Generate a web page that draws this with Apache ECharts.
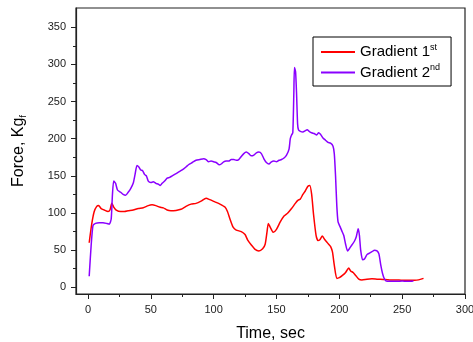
<!DOCTYPE html>
<html>
<head>
<meta charset="utf-8">
<script src="https://cdn.jsdelivr.net/npm/echarts@6/dist/echarts.min.js"></script>
<style>
  html, body { margin: 0; padding: 0; background: #fff; }
  #main { width: 473px; height: 342px; }
</style>
</head>
<body>
<div id="main"></div>
<script>
// Gradient 1st (red)
const time1 = [1, 3, 5, 7, 8.5, 10.5, 13, 16, 17.5, 19, 20.5, 22.5, 26, 29, 32, 36, 40, 44, 48, 51, 54, 57, 60, 63, 66, 70, 74, 78, 82, 86, 90, 94, 97, 101, 105, 109, 111, 113, 115.5, 118, 122, 125, 127, 130, 133, 136, 139, 141, 142.5, 143.5, 145, 147.5, 150, 153, 156, 159, 162, 165, 167, 169, 171, 173, 175, 176.5, 178, 179.5, 181.5, 183, 184.5, 186.5, 188.5, 190, 191.5, 193, 194.5, 196, 198, 200, 202.5, 205, 207.5, 209, 211, 213, 215.5, 218, 222, 226, 230, 235, 240, 245, 250, 255, 260, 263, 267]
const force1 = [60, 85, 102, 109, 110, 106, 104, 102, 104, 113, 108, 104, 102, 102, 103, 104, 106, 107, 110, 111, 110, 108, 107, 104, 103, 103.5, 105, 109, 112, 113, 116, 120, 118, 115, 112, 108, 102, 92, 81, 77, 75, 71, 64, 57, 51, 49, 52, 58, 75, 86, 81, 74, 78, 88, 96, 100, 106, 113, 117, 119, 125, 130, 136, 137, 125, 98, 70, 63, 64, 69, 64, 61, 58, 55, 48, 30, 12, 13, 16, 20, 26, 22, 20, 16, 11, 10, 11, 11.5, 11, 10.5, 10, 10, 9.5, 9.5, 9.5, 10, 12]

// Gradient 2nd (purple)
const time2 = [1, 2.5, 4, 6, 9, 12, 15, 17, 18.5, 19.5, 20.5, 22, 23.5, 26, 28, 30, 32, 34, 36, 37.5, 39, 40.5, 42, 43.5, 45, 46.5, 48, 50, 52, 54, 56, 57.5, 59, 61, 63, 65, 67, 69, 72, 75, 78, 80, 83, 86, 89, 92, 94, 96, 98, 100, 102, 104.5, 106, 108, 110, 112, 114, 116, 118, 120, 122, 124, 126, 128, 130, 132, 134, 136, 138, 140, 142, 144, 146, 148, 150, 152, 154, 156, 158, 160, 161, 162, 163, 163.8, 164.3, 165.2, 166, 166.8, 167.5, 169, 171, 173, 174.5, 176, 178, 180, 182, 183.5, 185, 187, 189, 191, 193, 195, 196, 197, 198, 199, 200.5, 202, 203.5, 205, 206.5, 208, 210, 212, 213.5, 215, 216, 217, 218.5, 220, 222, 224, 226, 228, 230, 231.5, 233, 234.5, 236, 238, 242, 246, 250, 254, 259]
const force2 = [15, 55, 83, 86, 87, 87, 86, 85, 92, 125, 143, 140, 131, 128, 125, 124, 128, 133, 140, 152, 164, 162, 158, 157, 152, 150, 143, 141, 142, 140, 139, 137, 140, 143, 147, 148, 150, 152, 155, 158, 162, 165, 168, 171, 172, 173, 172, 169, 170, 169, 168, 165, 166, 169, 170, 170, 172, 172, 171, 172, 176, 180, 182, 180, 177, 178, 181, 182, 180, 173, 168, 166, 169, 170, 169, 171, 172, 174, 178, 186, 200, 205, 208, 260, 296, 290, 260, 220, 212, 210, 209, 211, 212, 210, 208, 207, 205, 208, 206, 201, 198, 195, 194, 190, 180, 150, 110, 88, 82, 76, 70, 58, 49, 52, 57, 62, 68, 79, 70, 50, 37, 38, 44, 46, 48, 50, 49, 45, 30, 18, 11, 8, 8, 8, 8.5, 8, 8.5]

const xMajor = [0, 50, 100, 150, 200, 250, 300]
const xMinor = [25, 75, 125, 175, 225, 275]
const yMajor = [0, 50, 100, 150, 200, 250, 300, 350]
const yMinor = [25, 75, 125, 175, 225, 275, 325]

const pairs = (xs, ys) => xs.map((x, i) => [x, ys[i]])

const axisColor = '#222'
const font = 'Liberation Sans, Arial, sans-serif'

const myChart = echarts.init(document.getElementById('main'))
myChart.setOption({
  animation: false,
  color: ['#ff0000', '#8a00ff'],
  grid: {
    left: 76,
    right: 8,
    top: 8,
    bottom: 48,
    outerBoundsMode: 'none',
    containLabel: false,
    show: true,
    borderColor: axisColor,
    borderWidth: 1.2
  },
  legend: {
    orient: 'vertical',
    left: 313,
    top: 37,
    padding: [6, 11, 6, 8],
    itemGap: 4,
    itemWidth: 34,
    itemHeight: 2,
    icon: 'rect',
    backgroundColor: '#fff',
    borderColor: '#000',
    borderWidth: 1,
    borderRadius: 0,
    formatter: function (name) {
      const base = name.slice(0, -2)
      const sup = name.slice(-2)
      return '{t|' + base + '}{s|' + sup + '}'
    },
    textStyle: {
      rich: {
        t: { fontFamily: font, fontSize: 15, color: '#000', lineHeight: 18 },
        s: { fontFamily: font, fontSize: 9, color: '#000', padding: [0, 0, 9, 0] }
      }
    },
    data: ['Gradient 1st', 'Gradient 2nd']
  },
  xAxis: [
    {
      type: 'value',
      min: -9.5,
      max: 300,
      name: 'Time, sec',
      nameLocation: 'middle',
      nameGap: 32,
      nameTextStyle: { fontFamily: font, fontSize: 16, color: '#000' },
      splitLine: { show: false },
      axisLine: { show: true, onZero: false, lineStyle: { color: axisColor, width: 1.2 } },
      axisTick: { show: true, length: 5, customValues: xMajor, lineStyle: { color: axisColor } },
      axisLabel: { customValues: xMajor, margin: 10, fontFamily: font, fontSize: 11, color: '#222' }
    },
    {
      type: 'value',
      min: -9.5,
      max: 300,
      position: 'bottom',
      splitLine: { show: false },
      axisLine: { show: false, onZero: false },
      axisTick: { show: true, length: 3, customValues: xMinor, lineStyle: { color: axisColor } },
      axisLabel: { show: false }
    }
  ],
  yAxis: [
    {
      type: 'value',
      min: -9,
      max: 376,
      name: 'Force, Kg{sub|f}',
      nameLocation: 'middle',
      nameRotate: 90,
      nameGap: 48,
      nameTextStyle: {
        fontFamily: font,
        fontSize: 16,
        color: '#000',
        rich: {
          sub: { fontFamily: font, fontSize: 9, color: '#000', padding: [9, 0, 0, 0] }
        }
      },
      splitLine: { show: false },
      axisLine: { show: true, onZero: false, lineStyle: { color: axisColor, width: 1.2 } },
      axisTick: { show: true, length: 5, customValues: yMajor, lineStyle: { color: axisColor } },
      axisLabel: { customValues: yMajor, margin: 10, fontFamily: font, fontSize: 11, color: '#222' }
    },
    {
      type: 'value',
      min: -9,
      max: 376,
      position: 'left',
      splitLine: { show: false },
      axisLine: { show: false, onZero: false },
      axisTick: { show: true, length: 3, customValues: yMinor, lineStyle: { color: axisColor } },
      axisLabel: { show: false }
    }
  ],
  series: [
    {
      name: 'Gradient 1st',
      type: 'line',
      showSymbol: false,
      smooth: 0.2,
      lineStyle: { width: 1.5 },
      data: pairs(time1, force1)
    },
    {
      name: 'Gradient 2nd',
      type: 'line',
      showSymbol: false,
      smooth: 0.2,
      lineStyle: { width: 1.5 },
      data: pairs(time2, force2)
    }
  ]
})
</script>
</body>
</html>
